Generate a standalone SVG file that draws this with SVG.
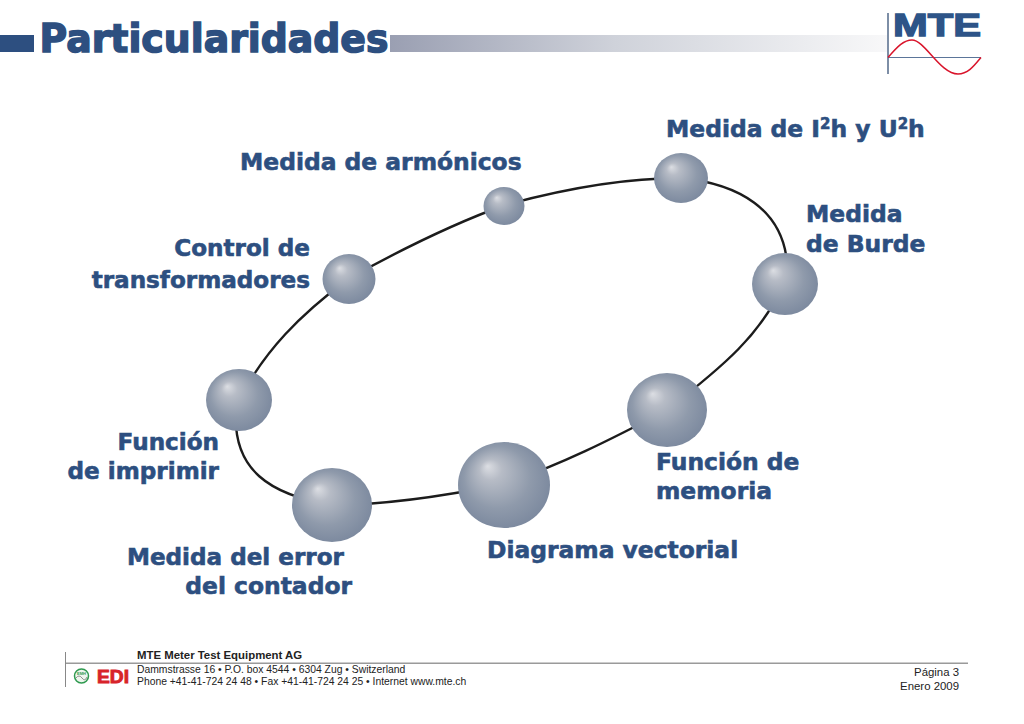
<svg xmlns="http://www.w3.org/2000/svg" width="1024" height="724" viewBox="0 0 1024 724">
<style>
.lbl{font-family:"DejaVu Sans","Liberation Sans",sans-serif;font-weight:700;font-size:23.400px;fill:#2d4f80;stroke:#2d4f80;stroke-width:.6}
.tight{font-size:23.100px}
.foot{font-family:"Liberation Sans",Arial,sans-serif;font-size:10.350px;fill:#222}
.side{font-family:"Liberation Sans",Arial,sans-serif;font-size:11.400px;fill:#222}
.ball{fill:url(#sph)}
</style>
<defs>
<radialGradient id="sph" cx=".5" cy=".5" r=".6" fx=".32" fy=".28">
<stop offset="0" stop-color="#dcdee3"/>
<stop offset=".2" stop-color="#b7bcc6"/>
<stop offset=".6" stop-color="#8f9aab"/>
<stop offset="1" stop-color="#75839a"/>
</radialGradient>
<linearGradient id="bar" x1="0" x2="1" y1="0" y2="0">
<stop offset="0" stop-color="#9a9fb2"/>
<stop offset=".45" stop-color="#cfd2da"/>
<stop offset="1" stop-color="#f8f8f9"/>
</linearGradient>
</defs>
<rect width="1024" height="724" fill="#fff"/>
<g id="header">
<rect x="0" y="35" width="34" height="17" fill="#2d4f80"/>
<rect x="390" y="35" width="498" height="17" fill="url(#bar)"/>
<text x="39.500" y="52" font-family="'DejaVu Sans','Liberation Sans',sans-serif" font-weight="700" font-size="38.500" fill="#2d4f80" stroke="#2d4f80" stroke-width="1.500" textLength="349" lengthAdjust="spacingAndGlyphs">Particularidades</text>
</g>
<g id="logo">
<rect x="887" y="13" width="2" height="61" fill="#7d8ea6"/>
<text x="893" y="36" font-family="'Liberation Sans',Arial,sans-serif" font-weight="700" font-size="31" fill="#2d5488" stroke="#2d5488" stroke-width="1.300" textLength="88" lengthAdjust="spacingAndGlyphs">MTE</text>
<line x1="888" y1="57.500" x2="981" y2="57.500" stroke="#5b7599" stroke-width="1"/>
<path d="M888 57.500C898 46 904 40 912 40C925 40 940 74 958 74C968 74 974 66 981 57.500" fill="none" stroke="#d9142b" stroke-width="1.500"/>
</g>
<g id="connectors" fill="none" stroke="#1c1c1c" stroke-width="2.400">
<path d="M681 178C740 184 782 210 787 262"/>
<path d="M784 284C760 335 725 365 667 410"/>
<path d="M667 410C610 440 560 465 504 484"/>
<path d="M504 484C450 495 390 505 332 505"/>
<path d="M332 505C270 495 232 470 236 410"/>
<path d="M239 400C265 350 300 315 348 279"/>
<path d="M348 279C400 250 450 225 505 205"/>
<path d="M505 205C560 190 620 178 681 178"/>
</g>
<g id="node-i2h"><ellipse class="ball" cx="681" cy="178" rx="27" ry="25"/>
<text class="lbl" x="666" y="137">Medida de I<tspan font-size="15" dy="-8">2</tspan><tspan dy="8">h y U</tspan><tspan font-size="15" dy="-8">2</tspan><tspan dy="8">h</tspan></text></g>
<g id="node-armonicos"><ellipse class="ball" cx="504" cy="206" rx="20.500" ry="19"/>
<text class="lbl" x="240" y="170">Medida de armónicos</text></g>
<g id="node-transformadores"><ellipse class="ball" cx="349" cy="279" rx="26.500" ry="25"/>
<text class="lbl tight" x="310" y="256" text-anchor="end">Control de</text>
<text class="lbl tight" x="310" y="288" text-anchor="end">transformadores</text></g>
<g id="node-burde"><ellipse class="ball" cx="785" cy="284" rx="33" ry="31"/>
<text class="lbl" x="806" y="222">Medida</text>
<text class="lbl" x="806" y="252">de Burde</text></g>
<g id="node-imprimir"><ellipse class="ball" cx="239" cy="400" rx="33" ry="31"/>
<text class="lbl tight" x="219" y="450" text-anchor="end">Función</text>
<text class="lbl tight" x="219" y="479" text-anchor="end">de imprimir</text></g>
<g id="node-memoria"><ellipse class="ball" cx="667" cy="410" rx="40" ry="37"/>
<text class="lbl" x="656" y="470">Función de</text>
<text class="lbl" x="656" y="499">memoria</text></g>
<g id="node-vectorial"><ellipse class="ball" cx="504" cy="485" rx="46" ry="43"/>
<text class="lbl" x="487" y="558">Diagrama vectorial</text></g>
<g id="node-error"><ellipse class="ball" cx="332" cy="505" rx="40" ry="37"/>
<text class="lbl tight" x="344" y="565" text-anchor="end">Medida del error</text>
<text class="lbl" x="352" y="594" text-anchor="end">del contador</text></g>
<g id="footer">
<rect x="65" y="652" width="1" height="35" fill="#888"/>
<rect x="66" y="662.500" width="902" height="1.500" fill="#9a9a9a"/>
<text x="137" y="659" font-family="'Liberation Sans',Arial,sans-serif" font-weight="700" font-size="11.400" fill="#222">MTE Meter Test Equipment AG</text>
<text class="foot" x="137" y="673">Dammstrasse 16 • P.O. box 4544 • 6304 Zug • Switzerland</text>
<text class="foot" x="137" y="685">Phone +41-41-724 24 48 • Fax +41-41-724 24 25 • Internet www.mte.ch</text>
<text class="side" x="959" y="676" text-anchor="end">Página 3</text>
<text class="side" x="959" y="690" text-anchor="end">Enero 2009</text>
<circle cx="81.500" cy="676" r="7" fill="#eef6ee" stroke="#2f9a50" stroke-width="1.500"/>
<text x="81.500" y="675" text-anchor="middle" font-family="'Liberation Sans',Arial,sans-serif" font-weight="700" font-size="4" fill="#2f9a50">EMH</text>
<path d="M76 678Q79 674 82 678T87 677" fill="none" stroke="#666" stroke-width=".7"/>
<text x="97" y="683" font-family="'Liberation Sans',Arial,sans-serif" font-weight="700" font-size="18" fill="#d8232a" stroke="#d8232a" stroke-width=".9" textLength="32" lengthAdjust="spacingAndGlyphs">EDI</text>
</g>
</svg>
